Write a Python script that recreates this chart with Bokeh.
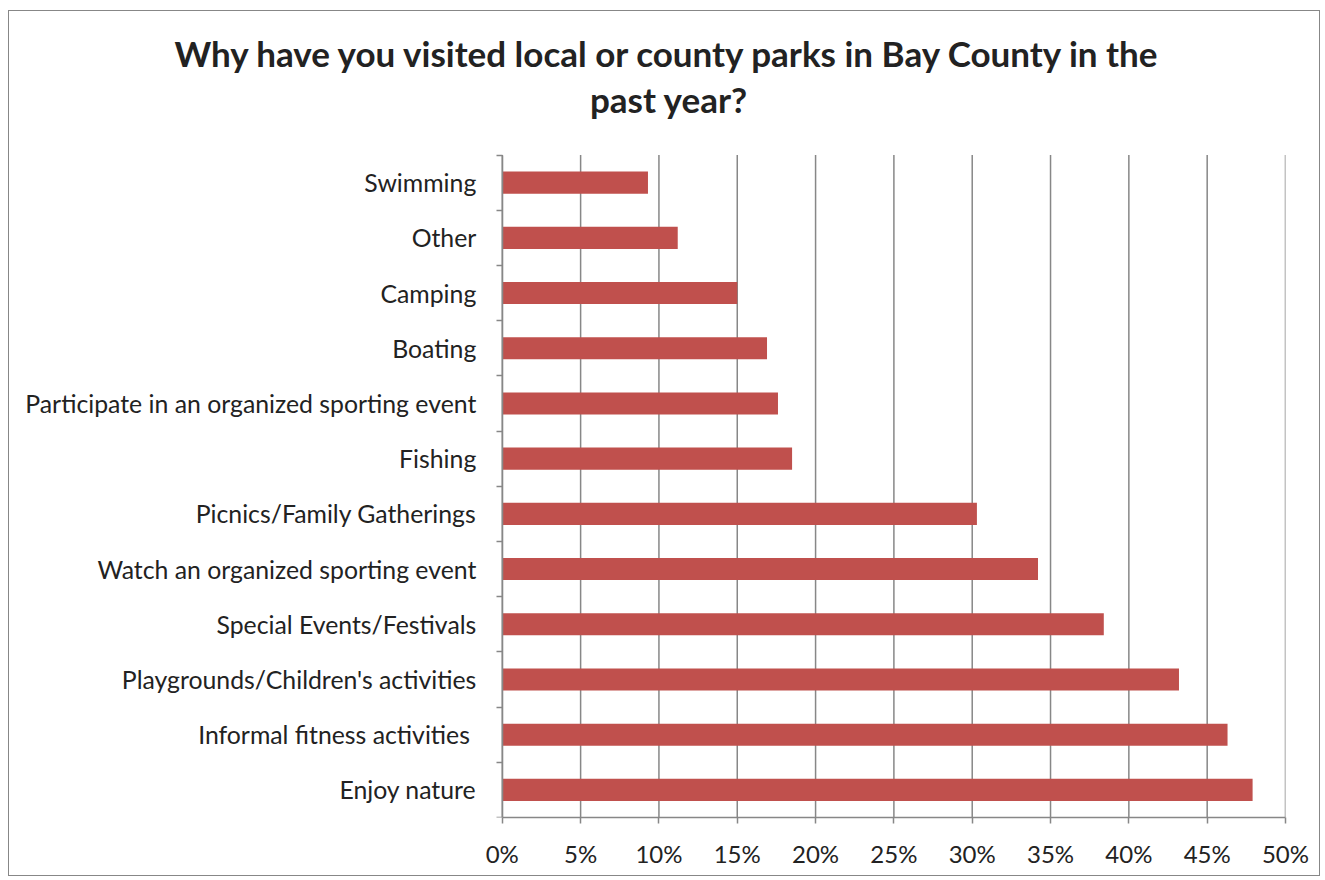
from bokeh.plotting import figure
from bokeh.models import Range1d, FixedTicker, NumeralTickFormatter, Label, ColumnDataSource
from bokeh.embed import file_html
from bokeh.resources import INLINE

# categories listed bottom-to-top
categories = [
    "Enjoy nature",
    "Informal fitness activities ",
    "Playgrounds/Children's activities",
    "Special Events/Festivals",
    "Watch an organized sporting event",
    "Picnics/Family Gatherings",
    "Fishing",
    "Participate in an organized sporting event",
    "Boating",
    "Camping",
    "Other",
    "Swimming",
]
shares = [0.479, 0.463, 0.432, 0.384, 0.342, 0.303, 0.185, 0.176, 0.169, 0.150, 0.112, 0.093]
x_ticks = [0, 0.05, 0.10, 0.15, 0.20, 0.25, 0.30, 0.35, 0.40, 0.45, 0.50]
title_lines = ["Why have you visited local or county parks in Bay County in the", "past year?"]

FONT = "Lato"
GRAY = "#878787"
BAR = "#C0504D"
TXT = "#222222"

n = len(categories)
centers = [i + 0.5 for i in range(n)]
bounds = list(range(n + 1))
src = ColumnDataSource(dict(y=centers, share=shares, cat=categories))

# the frame covers the whole chart box so that the title can sit in data space;
# the value axis (0..50%) occupies only its right-hand part
p = figure(width=1312, height=866, output_backend="svg", toolbar_location=None,
           y_range=Range1d(0, 14.6), x_range=Range1d(-0.3146, 0.5),
           min_border_left=0, min_border_top=0, min_border_right=36, min_border_bottom=60,
           x_axis_location="below", y_axis_location="left")
p.styles = {"border": "1.5px solid #878787", "margin-left": "8px", "margin-top": "10px"}
p.outline_line_color = None
p.background_fill_color = "white"
p.border_fill_color = "white"
p.xgrid.grid_line_color = None
p.ygrid.grid_line_color = None

# vertical gridlines, limited to the bar area
p.segment(x0=x_ticks, x1=x_ticks, y0=0, y1=n, line_color=GRAY, line_width=1.5)

p.hbar(y="y", right="share", left=0, height=0.4, source=src, fill_color=BAR, line_color=None)

# x axis
xa = p.xaxis[0]
xa.ticker = FixedTicker(ticks=x_ticks)
xa.bounds = (0, 0.5)
xa.formatter = NumeralTickFormatter(format="0%")
xa.axis_line_color = GRAY
xa.axis_line_width = 1.5
xa.major_tick_line_color = GRAY
xa.major_tick_line_width = 1.5
xa.major_tick_in = 0
xa.major_tick_out = 6
xa.minor_tick_line_color = None
xa.major_label_text_font = FONT
xa.major_label_text_font_size = "24px"
xa.major_label_text_color = TXT
xa.major_label_standoff = 15

# y axis at 0%: labels at bar centres, tick marks (minor) at category boundaries
ya = p.yaxis[0]
ya.fixed_location = 0
ya.ticker = FixedTicker(ticks=centers, minor_ticks=bounds)
ya.major_label_overrides = {c: name for c, name in zip(centers, categories)}
ya.bounds = (0, n)
ya.axis_line_color = GRAY
ya.axis_line_width = 1.5
ya.major_tick_line_color = None
ya.major_tick_in = 0
ya.major_tick_out = 0
ya.minor_tick_line_color = GRAY
ya.minor_tick_line_width = 1.5
ya.minor_tick_in = 0
ya.minor_tick_out = 6
ya.major_label_text_font = FONT
ya.major_label_text_font_size = "24.8px"
ya.major_label_text_color = TXT
ya.major_label_standoff = 20

# title (two centred lines)
title_y = [13.84, 13.01]
for line, ty in zip(title_lines, title_y):
    p.add_layout(Label(x=0.1064, y=ty, text=line, text_font=FONT,
                       text_font_style="bold", text_font_size="35px", text_color=TXT,
                       text_align="center", text_baseline="alphabetic"))

open("out.html", "w").write(file_html(p, INLINE))
